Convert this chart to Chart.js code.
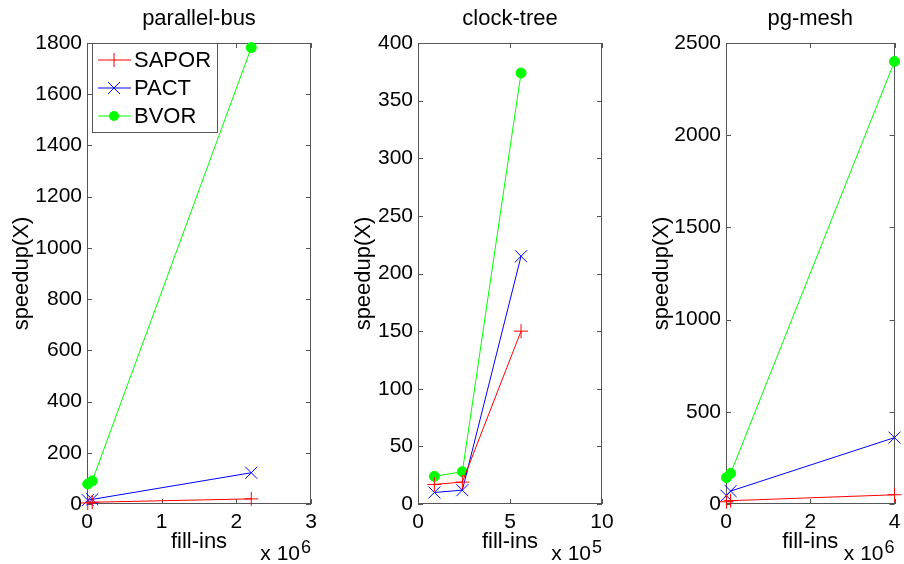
<!DOCTYPE html>
<html>
<head>
<meta charset="utf-8">
<script src="https://cdn.jsdelivr.net/npm/chart.js@4.4.0/dist/chart.umd.min.js"></script>
<style>
  html, body { margin: 0; padding: 0; background: #fff; }
  body { width: 904px; height: 564px; position: relative; overflow: hidden; }
  .panel { position: absolute; top: 0; height: 564px; }
</style>
</head>
<body>
<div class="panel" style="left:0px;width:330px"><canvas id="busChart" width="330" height="564"></canvas></div>
<div class="panel" style="left:340px;width:280px"><canvas id="clockChart" width="280" height="564"></canvas></div>
<div class="panel" style="left:650px;width:254px"><canvas id="meshChart" width="254" height="564"></canvas></div>
<script>
// parallel-bus (fill-ins in units of 10^6)
const busFillIns = [0.01, 0.07, 2.2];
const busSapor = [4, 7, 20];
const busPact = [15, 18, 122];
const busBvor = [78, 90, 1782];

// clock-tree (fill-ins in units of 10^5)
const clockFillIns = [0.89, 2.41, 5.6];
const clockSapor = [17, 19, 150];
const clockPact = [10, 12, 215];
const clockBvor = [24, 28, 374];

// pg-mesh (fill-ins in units of 10^6)
const meshFillIns = [0.01, 0.11, 4.0];
const meshSapor = [12, 18, 50];
const meshPact = [45, 70, 360];
const meshBvor = [143, 166, 2400];

const seriesNames = ['SAPOR', 'PACT', 'BVOR'];
const seriesColors = ['#ff0000', '#0000ff', '#00ff00'];

const FONT = "'Liberation Sans', Arial, sans-serif";

// matlab style box, inward ticks, titles, exponent and legend
const frame = {
    id: 'frame',
    beforeDatasetsDraw(chart) {
        const ctx = chart.ctx;
        const a = chart.chartArea;
        const xs = chart.scales.x, ys = chart.scales.y;
        ctx.save();
        ctx.strokeStyle = '#555';
        ctx.lineWidth = 1;
        ctx.strokeRect(Math.round(a.left) + 0.5, Math.round(a.top) + 0.5,
            Math.round(a.right - a.left) - 1, Math.round(a.bottom - a.top) - 1);
        ctx.beginPath();
        xs.ticks.forEach(function(t) {
            var px = Math.round(xs.getPixelForValue(t.value)) + 0.5;
            ctx.moveTo(px, a.bottom); ctx.lineTo(px, a.bottom - 5);
            ctx.moveTo(px, a.top); ctx.lineTo(px, a.top + 5);
        });
        ys.ticks.forEach(function(t) {
            var py = Math.round(ys.getPixelForValue(t.value)) + 0.5;
            ctx.moveTo(a.left, py); ctx.lineTo(a.left + 5, py);
            ctx.moveTo(a.right, py); ctx.lineTo(a.right - 5, py);
        });
        ctx.stroke();
        ctx.restore();
    },
    afterDraw(chart) {
        const o = chart.options.plugins.frame;
        const ctx = chart.ctx;
        const a = chart.chartArea;
        const cx = (a.left + a.right) / 2;
        ctx.save();
        ctx.fillStyle = '#000';
        ctx.font = '22px ' + FONT;
        ctx.textAlign = 'center';
        ctx.textBaseline = 'alphabetic';
        ctx.fillText(o.title, cx, 25);
        ctx.fillText('fill-ins', cx, 548);

        // y axis label
        ctx.save();
        ctx.translate(o.yLabelX, (a.top + a.bottom) / 2);
        ctx.rotate(-Math.PI / 2);
        ctx.textBaseline = 'middle';
        ctx.fillText('speedup(X)', 0, 0);
        ctx.restore();

        // exponent "x 10^n"
        ctx.textAlign = 'left';
        ctx.font = '18px ' + FONT;
        const supW = ctx.measureText(o.exp).width;
        ctx.font = '21px ' + FONT;
        const baseW = ctx.measureText('x 10').width;
        const ex = a.right - 1 - supW - baseW;
        ctx.fillText('x 10', ex, 560);
        ctx.font = '18px ' + FONT;
        ctx.fillText(o.exp, ex + baseW + 1, 553);

        if (o.legend) {
            const lx = a.left + 5, ly = a.top;
            ctx.fillStyle = '#fff';
            ctx.fillRect(lx, ly, 125, 89);
            ctx.strokeStyle = '#555';
            ctx.lineWidth = 1;
            ctx.strokeRect(lx + 0.5, ly + 0.5, 125, 89);
            chart.data.datasets.forEach(function(ds, i) {
                const y = ly + 17 + i * 28;
                ctx.strokeStyle = ds.borderColor;
                ctx.fillStyle = ds.borderColor;
                ctx.beginPath();
                ctx.moveTo(lx + 6, y); ctx.lineTo(lx + 39, y);
                const mx = lx + 22;
                if (ds.pointStyle === 'cross') {
                    ctx.moveTo(mx, y - 7); ctx.lineTo(mx, y + 7);
                } else if (ds.pointStyle === 'crossRot') {
                    ctx.moveTo(mx - 6, y - 6); ctx.lineTo(mx + 6, y + 6);
                    ctx.moveTo(mx - 6, y + 6); ctx.lineTo(mx + 6, y - 6);
                }
                ctx.stroke();
                if (ds.pointStyle === 'circle') {
                    ctx.beginPath();
                    ctx.arc(mx, y, 5, 0, Math.PI * 2);
                    ctx.fill();
                }
                ctx.fillStyle = '#000';
                ctx.font = '22px ' + FONT;
                ctx.textBaseline = 'middle';
                ctx.fillText(ds.label, lx + 42, y + 1);
            });
        }
        ctx.restore();
    }
};

function makeDatasets(xs, sapor, pact, bvor) {
    const values = [sapor, pact, bvor];
    const styles = ['cross', 'crossRot', 'circle'];
    const radii = [7, 8.5, 5];
    return values.map(function(vals, i) {
        return {
            label: seriesNames[i],
            data: xs.map(function(x, j) { return { x: x, y: vals[j] }; }),
            borderColor: seriesColors[i],
            backgroundColor: seriesColors[i],
            pointBorderColor: seriesColors[i],
            pointBackgroundColor: seriesColors[i],
            borderWidth: 1,
            pointBorderWidth: 1,
            pointStyle: styles[i],
            pointRadius: radii[i],
            tension: 0,
            clip: false
        };
    });
}

function plainLabel(v) { return String(v); }

function makeChart(id, datasets, p) {
    const ctx = document.getElementById(id).getContext('2d');
    return new Chart(ctx, {
        type: 'line',
        data: { datasets: datasets },
        plugins: [frame],
        options: {
            responsive: false,
            animation: false,
            events: [],
            layout: { padding: { top: 43, right: p.padRight, left: 0, bottom: 0 } },
            scales: {
                x: {
                    type: 'linear',
                    min: 0, max: p.xMax,
                    grid: { display: false, drawTicks: false },
                    border: { display: false },
                    ticks: { stepSize: p.xStep, color: '#000', padding: 6, maxRotation: 0,
                        callback: plainLabel, font: { family: FONT, size: 21 } },
                    afterFit: function(s) { s.height = 60; s.paddingLeft = 0; s.paddingRight = 0; }
                },
                y: {
                    min: 0, max: p.yMax,
                    grid: { display: false, drawTicks: false },
                    border: { display: false },
                    ticks: { stepSize: p.yStep, color: '#000', padding: 5,
                        callback: plainLabel, font: { family: FONT, size: 21 } },
                    afterFit: function(s) { s.width = p.axisW; }
                }
            },
            plugins: {
                legend: { display: false },
                tooltip: { enabled: false },
                frame: { title: p.title, exp: p.exp, yLabelX: p.yLabelX, legend: p.legend }
            }
        }
    });
}

makeChart('busChart', makeDatasets(busFillIns, busSapor, busPact, busBvor), {
    title: 'parallel-bus', exp: '6', xMax: 3, xStep: 1, yMax: 1800, yStep: 200,
    axisW: 87, padRight: 19, yLabelX: 22, legend: true
});
makeChart('clockChart', makeDatasets(clockFillIns, clockSapor, clockPact, clockBvor), {
    title: 'clock-tree', exp: '5', xMax: 10, xStep: 5, yMax: 400, yStep: 50,
    axisW: 78, padRight: 18, yLabelX: 24, legend: false
});
makeChart('meshChart', makeDatasets(meshFillIns, meshSapor, meshPact, meshBvor), {
    title: 'pg-mesh', exp: '6', xMax: 4, xStep: 2, yMax: 2500, yStep: 500,
    axisW: 76, padRight: 5, yLabelX: 12, legend: false
});
</script>
</body>
</html>
